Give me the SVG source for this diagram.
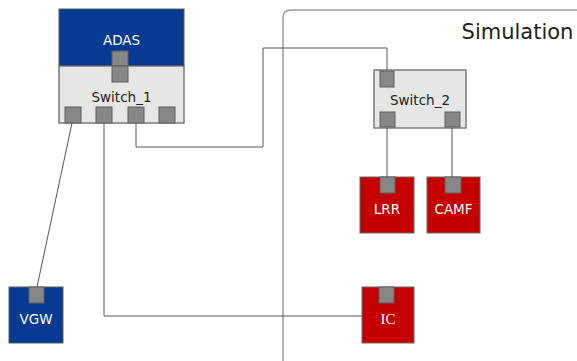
<svg xmlns="http://www.w3.org/2000/svg" width="577" height="361" viewBox="0 0 577 361">
<style>
.port{fill:#878787;stroke:#5f5f5f;stroke-width:1}
.blue{fill:#073a93;stroke:#5f5f5f;stroke-width:1}
.red{fill:#c40000;stroke:#6a6a6a;stroke-width:1}
.sw{fill:#e6e6e6;stroke:#5f5f5f;stroke-width:1.2}
.lbl{font-family:"DejaVu Sans",Verdana,sans-serif;font-size:13.5px;text-anchor:middle}
.w{fill:#ffffff}
.k{fill:#222222}
.wire{fill:none;stroke:#555555;stroke-width:1}
</style>
<rect width="577" height="361" fill="#ffffff"/>
<g id="simulation">
<path d="M283,361 V18 Q283,10 291,10 H585" fill="none" stroke="#9a9a9a" stroke-width="1.5"/>
<text x="517.5" y="39" font-family="'DejaVu Sans',Verdana,sans-serif" font-size="21" text-anchor="middle" fill="#222">Simulation</text>
</g>
<g id="connectors">
<path class="wire" d="M72,123 L37,287"/>
<path class="wire" d="M104,123 V316 H362"/>
<path class="wire" d="M136,123 V147 H263 V48 H387 V71"/>
<path class="wire" d="M387,127 V177"/>
<path class="wire" d="M452,127 V177"/>
</g>
<g id="ADAS">
<rect class="blue" x="59" y="9" width="125" height="57"/>
<text class="lbl w" x="121.5" y="45">ADAS</text>
<rect class="port" x="112" y="51" width="16" height="15"/>
</g>
<g id="Switch_1">
<rect class="sw" x="59" y="66" width="125" height="57"/>
<rect class="port" x="112" y="66" width="16" height="16"/>
<text class="lbl k" x="121.5" y="102">Switch_1</text>
<rect class="port" x="65" y="107" width="16" height="16"/>
<rect class="port" x="96" y="107" width="16" height="16"/>
<rect class="port" x="128" y="107" width="16" height="16"/>
<rect class="port" x="159" y="107" width="16" height="16"/>
</g>
<g id="Switch_2">
<rect class="sw" x="374" y="70" width="92" height="58"/>
<rect class="port" x="380" y="71" width="14" height="16"/>
<text class="lbl k" x="420" y="105">Switch_2</text>
<rect class="port" x="380" y="112" width="15" height="15"/>
<rect class="port" x="445" y="112" width="15" height="15"/>
</g>
<g id="LRR">
<rect class="red" x="360" y="177" width="54" height="56"/>
<rect class="port" x="380" y="177" width="15" height="16"/>
<text class="lbl w" x="387" y="214">LRR</text>
</g>
<g id="CAMF">
<rect class="red" x="427" y="177" width="53" height="56"/>
<rect class="port" x="445" y="177" width="16" height="16"/>
<text class="lbl w" x="453.5" y="214">CAMF</text>
</g>
<g id="VGW">
<rect class="blue" x="9" y="287" width="54" height="56"/>
<rect class="port" x="29" y="287" width="15" height="16"/>
<text class="lbl w" x="36" y="324">VGW</text>
</g>
<g id="IC">
<rect class="red" x="362" y="287" width="52" height="56"/>
<rect class="port" x="379" y="287" width="15" height="16"/>
<text x="388" y="324" font-family="'Liberation Serif','Times New Roman',serif" font-size="15" text-anchor="middle" fill="#ffffff">IC</text>
</g>
</svg>
